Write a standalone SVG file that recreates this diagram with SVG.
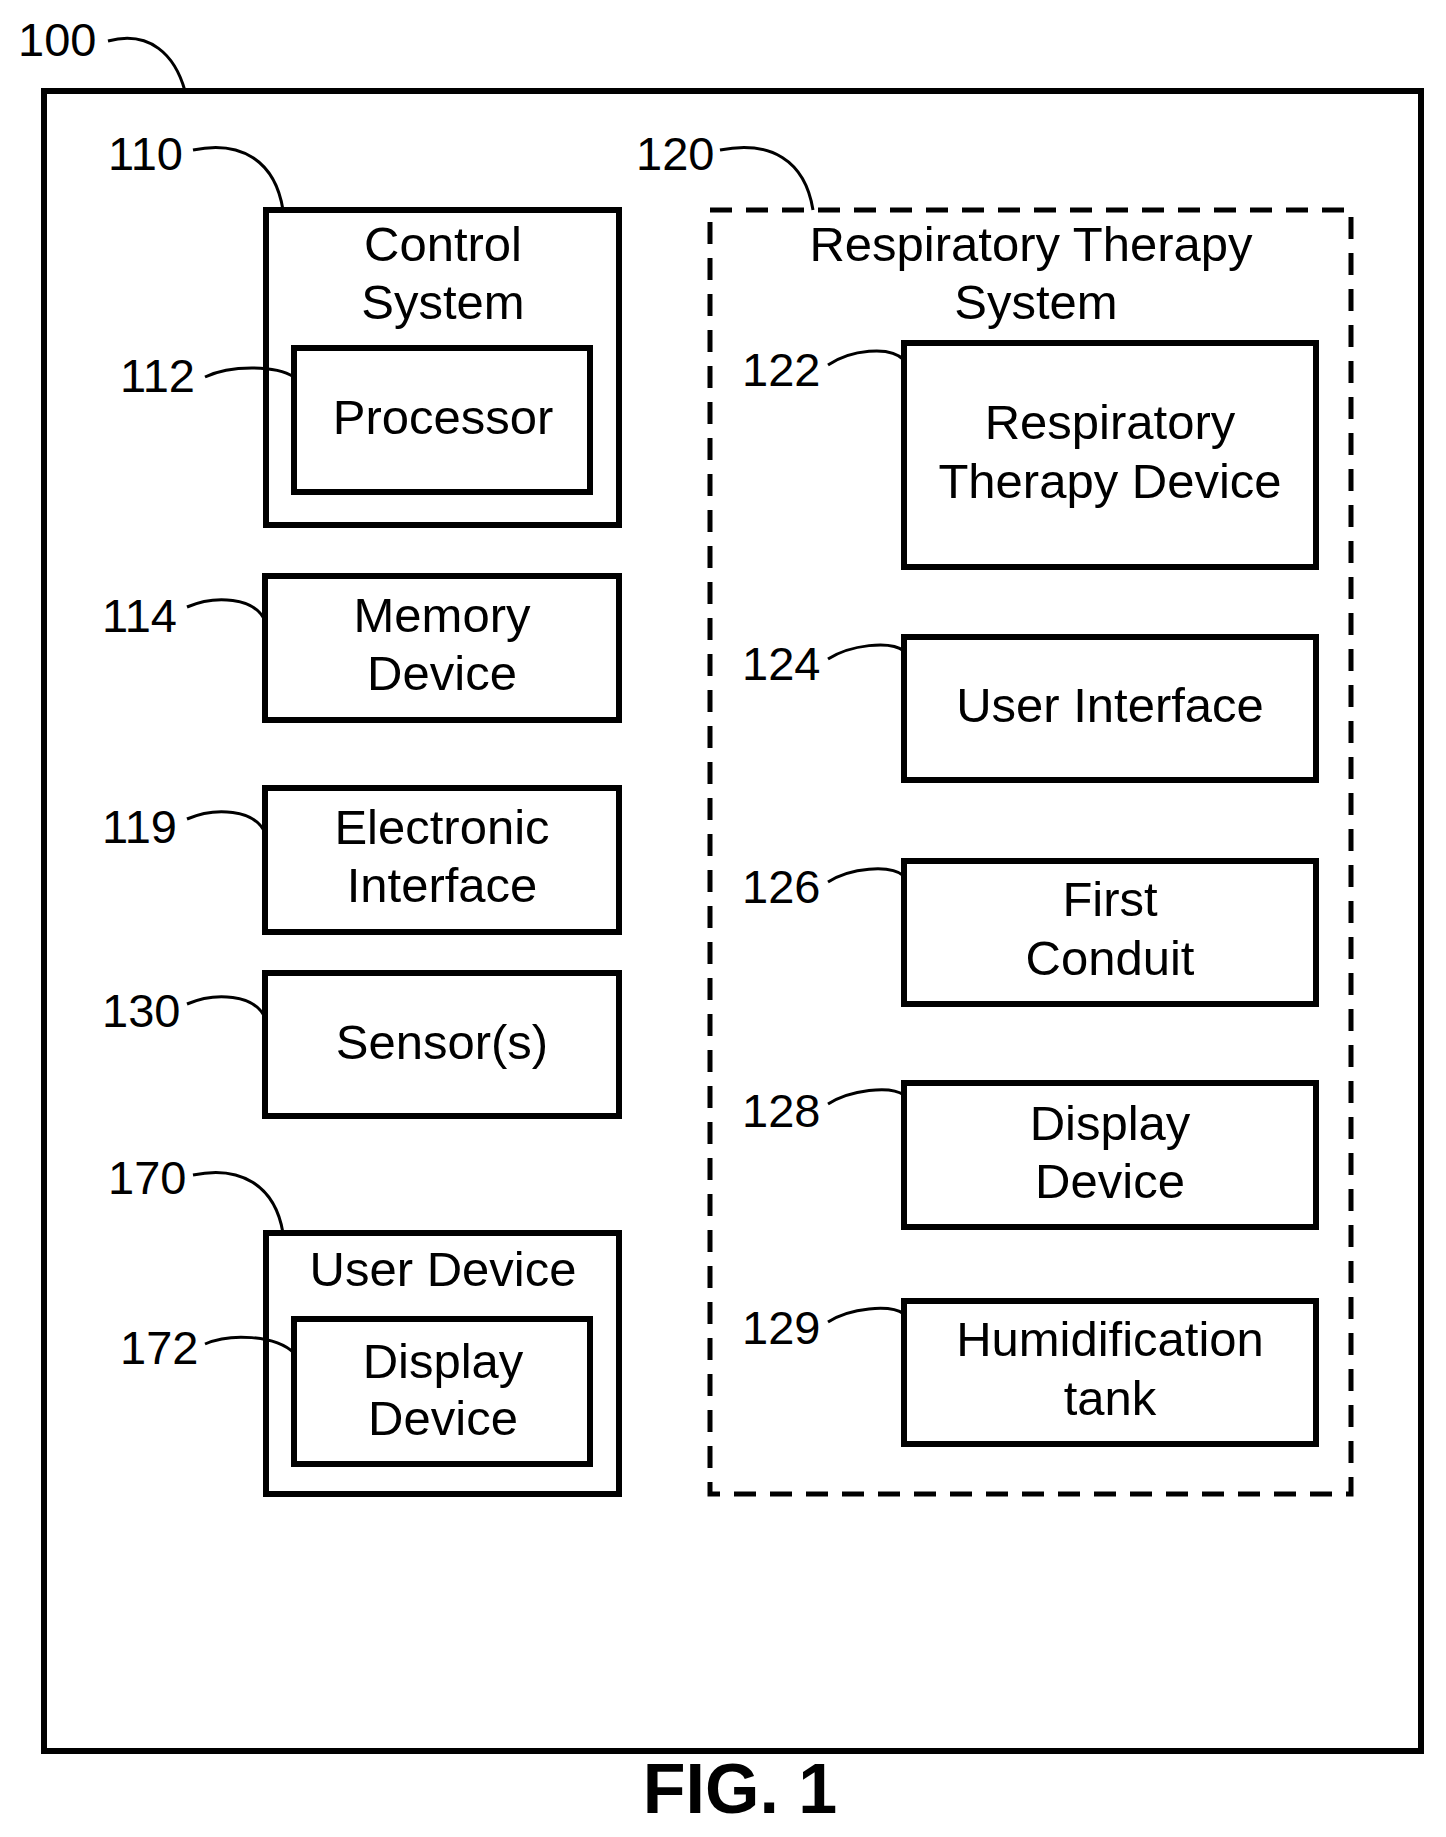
<svg xmlns="http://www.w3.org/2000/svg" width="1446" height="1837" viewBox="0 0 1446 1837">
<style>
.b{fill:none;stroke:#000;stroke-width:6}
.d{fill:none;stroke:#000;stroke-width:5;stroke-dasharray:22 14}
.t{font-family:"Liberation Sans",Arial,sans-serif;font-size:49px;text-anchor:middle;fill:#000}
.l{font-family:"Liberation Sans",Arial,sans-serif;font-size:47px;fill:#000}
.c{fill:none;stroke:#000;stroke-width:3}
</style>
<rect width="1446" height="1837" fill="#fff"/>
<g id="n100"><rect class="b" x="44" y="91" width="1377" height="1660"/><text class="l" x="18" y="56">100</text></g>
<g id="n110"><rect class="b" x="266" y="210" width="353" height="315"/><text class="t" x="443" y="261">Control</text><text class="t" x="443" y="319">System</text><text class="l" x="108" y="170">110</text></g>
<g id="n112"><rect class="b" x="294" y="348" width="296" height="144"/><text class="t" x="443" y="434">Processor</text><text class="l" x="120" y="392">112</text></g>
<g id="n114"><rect class="b" x="265" y="576" width="354" height="144"/><text class="t" x="442" y="632">Memory</text><text class="t" x="442" y="690">Device</text><text class="l" x="102" y="632">114</text></g>
<g id="n119"><rect class="b" x="265" y="788" width="354" height="144"/><text class="t" x="442" y="844">Electronic</text><text class="t" x="442" y="902">Interface</text><text class="l" x="102" y="843">119</text></g>
<g id="n130"><rect class="b" x="265" y="973" width="354" height="143"/><text class="t" x="442" y="1059">Sensor(s)</text><text class="l" x="102" y="1027">130</text></g>
<g id="n170"><rect class="b" x="266" y="1233" width="353" height="261"/><text class="t" x="443" y="1286">User Device</text><text class="l" x="108" y="1194">170</text></g>
<g id="n172"><rect class="b" x="294" y="1319" width="296" height="145"/><text class="t" x="443" y="1378">Display</text><text class="t" x="443" y="1435">Device</text><text class="l" x="120" y="1364">172</text></g>
<g id="n120"><rect class="d" x="710" y="210" width="641" height="1284"/><text class="t" x="1031" y="261">Respiratory Therapy</text><text class="t" x="1036" y="319">System</text><text class="l" x="636" y="170">120</text></g>
<g id="n122"><rect class="b" x="904" y="343" width="412" height="224"/><text class="t" x="1110" y="439">Respiratory</text><text class="t" x="1110" y="498">Therapy Device</text><text class="l" x="742" y="386">122</text></g>
<g id="n124"><rect class="b" x="904" y="637" width="412" height="143"/><text class="t" x="1110" y="722">User Interface</text><text class="l" x="742" y="680">124</text></g>
<g id="n126"><rect class="b" x="904" y="861" width="412" height="143"/><text class="t" x="1110" y="916">First</text><text class="t" x="1110" y="975">Conduit</text><text class="l" x="742" y="903">126</text></g>
<g id="n128"><rect class="b" x="904" y="1083" width="412" height="144"/><text class="t" x="1110" y="1140">Display</text><text class="t" x="1110" y="1198">Device</text><text class="l" x="742" y="1127">128</text></g>
<g id="n129"><rect class="b" x="904" y="1301" width="412" height="143"/><text class="t" x="1110" y="1356">Humidification</text><text class="t" x="1110" y="1415">tank</text><text class="l" x="742" y="1344">129</text></g>
<g id="connectors">
<path class="c" d="M108 41 C150 30 175 55 185 91"/>
<path class="c" d="M193 150 C240 140 275 160 283 210"/>
<path class="c" d="M205 377 C230 365 275 365 294 377"/>
<path class="c" d="M187 607 C215 595 255 597 265 621"/>
<path class="c" d="M187 819 C215 807 255 809 265 833"/>
<path class="c" d="M187 1004 C215 992 255 994 265 1018"/>
<path class="c" d="M193 1175 C240 1165 275 1185 283 1233"/>
<path class="c" d="M205 1344 C230 1333 275 1335 294 1353"/>
<path class="c" d="M720 150 C770 140 805 160 813 210"/>
<path class="c" d="M828 365 C850 350 890 345 904 360"/>
<path class="c" d="M828 659 C850 645 890 640 904 651"/>
<path class="c" d="M828 882 C850 868 890 864 904 876"/>
<path class="c" d="M828 1104 C850 1090 890 1085 904 1095"/>
<path class="c" d="M828 1322 C850 1308 890 1304 904 1314"/>
</g>
<text x="740" y="1813" style="font-family:'Liberation Sans',Arial,sans-serif;font-size:70px;font-weight:bold;text-anchor:middle">FIG. 1</text>
</svg>
